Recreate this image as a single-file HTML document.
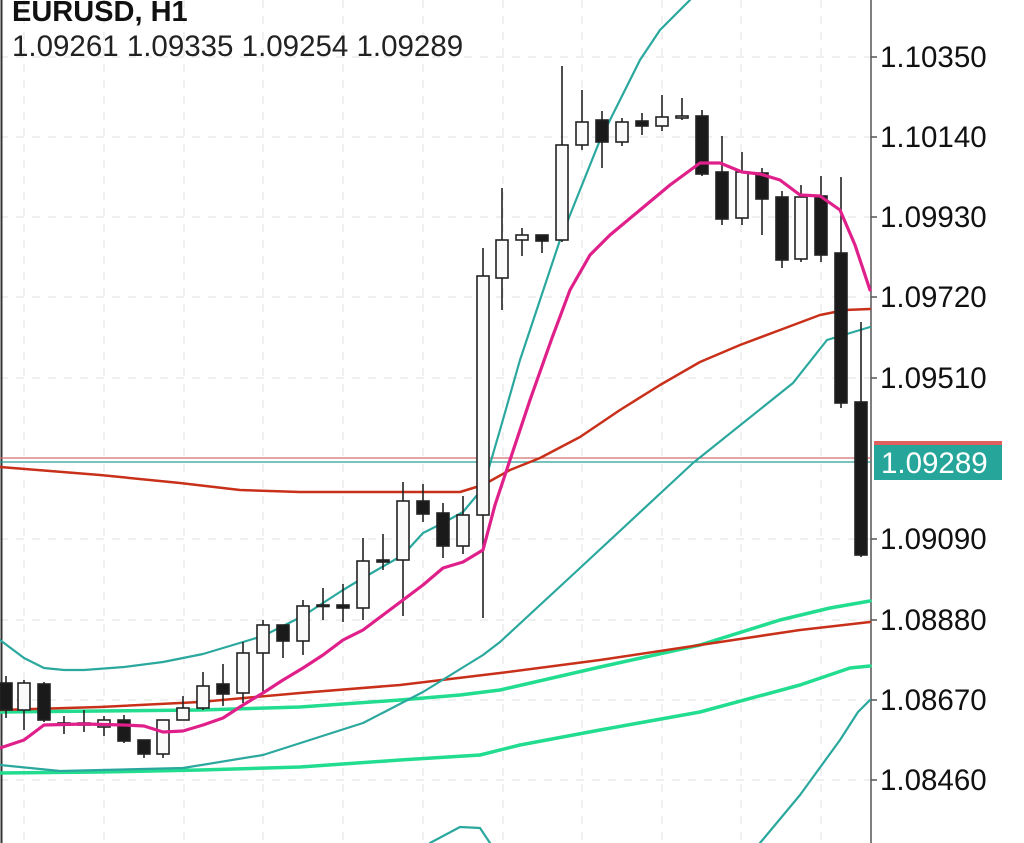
<!DOCTYPE html>
<html><head><meta charset="utf-8"><style>
html,body{margin:0;padding:0;background:#fff;}
svg{display:block;font-family:"Liberation Sans",sans-serif;}
</style></head><body>
<svg width="1024" height="843" viewBox="0 0 1024 843" xmlns="http://www.w3.org/2000/svg">
<rect width="1024" height="843" fill="#fff"/>
<g stroke="#e2e2e2" stroke-width="1" stroke-dasharray="8,8">
<line x1="24" y1="0" x2="24" y2="843"/><line x1="104" y1="0" x2="104" y2="843"/><line x1="184" y1="0" x2="184" y2="843"/><line x1="263" y1="0" x2="263" y2="843"/><line x1="343" y1="0" x2="343" y2="843"/><line x1="423" y1="0" x2="423" y2="843"/><line x1="503" y1="0" x2="503" y2="843"/><line x1="582" y1="0" x2="582" y2="843"/><line x1="662" y1="0" x2="662" y2="843"/><line x1="741" y1="0" x2="741" y2="843"/><line x1="821" y1="0" x2="821" y2="843"/>
<line x1="0" y1="57" x2="871" y2="57"/><line x1="0" y1="137" x2="871" y2="137"/><line x1="0" y1="217" x2="871" y2="217"/><line x1="0" y1="297" x2="871" y2="297"/><line x1="0" y1="378" x2="871" y2="378"/><line x1="0" y1="539" x2="871" y2="539"/><line x1="0" y1="620" x2="871" y2="620"/><line x1="0" y1="700" x2="871" y2="700"/><line x1="0" y1="780" x2="871" y2="780"/>
</g>
<line x1="1.5" y1="0" x2="1.5" y2="843" stroke="#333" stroke-width="2"/>
<line x1="871" y1="0" x2="871" y2="843" stroke="#555" stroke-width="1.5"/>
<g stroke="#555" stroke-width="1.5"><line x1="871" y1="57" x2="877" y2="57"/><line x1="871" y1="137" x2="877" y2="137"/><line x1="871" y1="217" x2="877" y2="217"/><line x1="871" y1="297" x2="877" y2="297"/><line x1="871" y1="378" x2="877" y2="378"/><line x1="871" y1="539" x2="877" y2="539"/><line x1="871" y1="620" x2="877" y2="620"/><line x1="871" y1="700" x2="877" y2="700"/><line x1="871" y1="780" x2="877" y2="780"/></g>
<g font-size="29.5" fill="#111">
<text x="880" y="67">1.10350</text><text x="880" y="147">1.10140</text><text x="880" y="227">1.09930</text><text x="880" y="307">1.09720</text><text x="880" y="388">1.09510</text><text x="880" y="549">1.09090</text><text x="880" y="630">1.08880</text><text x="880" y="710">1.08670</text><text x="880" y="790">1.08460</text>
</g>
<line x1="0" y1="458" x2="871" y2="458" stroke="#d07070" stroke-width="1.3"/>
<line x1="0" y1="462" x2="871" y2="462" stroke="#2a9d93" stroke-width="1.3"/>
<rect x="874" y="441" width="128" height="5" fill="#e06060"/>
<rect x="874" y="445" width="128" height="35" fill="#26a69a"/>
<text x="881" y="473" font-size="29.5" fill="#fff">1.09289</text>
<g fill="none" stroke-linejoin="round" stroke-linecap="round">
<polyline stroke="#22dd90" stroke-width="3.5" points="0,712 100,711 200,710 300,707 400,700 460,695 500,690 600,667 700,645 780,620 830,608 870,601"/>
<polyline stroke="#22dd90" stroke-width="3.5" points="0,773 100,772 200,770 300,767 400,760 480,755 520,745 600,730 700,712 800,685 850,668 870,666"/>
<polyline stroke="#c8301a" stroke-width="2.5" points="0,710 100,707 200,702 300,693 400,685 500,673 600,660 700,645 800,630 870,622"/>
<polyline stroke="#c8301a" stroke-width="2.5" points="0,467 100,475 180,483 240,490 300,492 420,492 460,492 483,485 510,470 540,458 580,437 620,410 660,385 700,362 740,345 780,330 820,315 845,310 870,309"/>
<polyline stroke="#2aa89e" stroke-width="2.2" points="0,640 24,658 44,668 64,670 84,670 124,667 163,662 183,658 203,654 243,642 263,636 303,616 343,590 363,578 403,555 423,533 443,523 463,512 483,488 500,430 520,360 540,300 560,240 580,190 600,140 620,100 640,60 660,30 690,0"/>
<polyline stroke="#2aa89e" stroke-width="2.2" points="0,765 60,771 183,768 263,755 363,723 423,692 483,655 500,642 580,568 693,463 793,383 827,340 870,327"/>
<polyline stroke="#2aa89e" stroke-width="2.2" points="760,843 800,795 840,740 858,712 870,700"/>
<polyline stroke="#2aa89e" stroke-width="2.2" points="430,843 460,827 480,828 490,843"/>
</g>
<g stroke="#222" stroke-width="1.6">
<line x1="6" y1="676" x2="6" y2="718"/><rect x="0" y="683" width="12" height="27" fill="#1a1a1a"/>
<line x1="24" y1="680" x2="24" y2="730"/><rect x="18" y="683" width="12" height="27" fill="#fafafa"/>
<line x1="44" y1="682" x2="44" y2="722"/><rect x="38" y="684" width="12" height="36" fill="#1a1a1a"/>
<line x1="64" y1="716" x2="64" y2="734"/><rect x="58" y="723" width="12" height="2" fill="#1a1a1a"/>
<line x1="84" y1="710" x2="84" y2="732"/><rect x="78" y="723" width="12" height="2" fill="#1a1a1a"/>
<line x1="104" y1="716" x2="104" y2="736"/><rect x="98" y="720" width="12" height="7" fill="#fafafa"/>
<line x1="124" y1="715" x2="124" y2="743"/><rect x="118" y="720" width="12" height="21" fill="#1a1a1a"/>
<line x1="144" y1="740" x2="144" y2="758"/><rect x="138" y="740" width="12" height="14" fill="#1a1a1a"/>
<line x1="163" y1="720" x2="163" y2="758"/><rect x="157" y="720" width="12" height="34" fill="#fafafa"/>
<line x1="183" y1="696" x2="183" y2="720"/><rect x="177" y="708" width="12" height="12" fill="#fafafa"/>
<line x1="203" y1="672" x2="203" y2="710"/><rect x="197" y="686" width="12" height="22" fill="#fafafa"/>
<line x1="223" y1="664" x2="223" y2="706"/><rect x="217" y="684" width="12" height="10" fill="#1a1a1a"/>
<line x1="243" y1="642" x2="243" y2="703"/><rect x="237" y="653" width="12" height="40" fill="#fafafa"/>
<line x1="263" y1="620" x2="263" y2="692"/><rect x="257" y="625" width="12" height="28" fill="#fafafa"/>
<line x1="283" y1="625" x2="283" y2="658"/><rect x="277" y="625" width="12" height="16" fill="#1a1a1a"/>
<line x1="303" y1="600" x2="303" y2="655"/><rect x="297" y="606" width="12" height="35" fill="#fafafa"/>
<line x1="323" y1="588" x2="323" y2="620"/><rect x="317" y="605" width="12" height="1.5" fill="#1a1a1a"/>
<line x1="343" y1="584" x2="343" y2="622"/><rect x="337" y="605" width="12" height="3" fill="#1a1a1a"/>
<line x1="363" y1="538" x2="363" y2="620"/><rect x="357" y="561" width="12" height="47" fill="#fafafa"/>
<line x1="383" y1="534" x2="383" y2="570"/><rect x="377" y="560" width="12" height="2" fill="#1a1a1a"/>
<line x1="403" y1="482" x2="403" y2="616"/><rect x="397" y="501" width="12" height="59" fill="#fafafa"/>
<line x1="423" y1="484" x2="423" y2="522"/><rect x="417" y="501" width="12" height="13" fill="#1a1a1a"/>
<line x1="443" y1="503" x2="443" y2="558"/><rect x="437" y="513" width="12" height="33" fill="#1a1a1a"/>
<line x1="463" y1="496" x2="463" y2="554"/><rect x="457" y="515" width="12" height="31" fill="#fafafa"/>
<line x1="483" y1="248" x2="483" y2="618"/><rect x="477" y="276" width="12" height="239" fill="#fafafa"/>
<line x1="502" y1="188" x2="502" y2="310"/><rect x="496" y="240" width="12" height="38" fill="#fafafa"/>
<line x1="522" y1="228" x2="522" y2="256"/><rect x="516" y="235" width="12" height="5" fill="#fafafa"/>
<line x1="542" y1="235" x2="542" y2="253"/><rect x="536" y="235" width="12" height="6" fill="#1a1a1a"/>
<line x1="562" y1="66" x2="562" y2="242"/><rect x="556" y="145" width="12" height="95" fill="#fafafa"/>
<line x1="582" y1="90" x2="582" y2="150"/><rect x="576" y="122" width="12" height="23" fill="#fafafa"/>
<line x1="602" y1="111" x2="602" y2="168"/><rect x="596" y="120" width="12" height="22" fill="#1a1a1a"/>
<line x1="622" y1="118" x2="622" y2="146"/><rect x="616" y="122" width="12" height="20" fill="#fafafa"/>
<line x1="642" y1="113" x2="642" y2="135"/><rect x="636" y="121" width="12" height="5" fill="#1a1a1a"/>
<line x1="662" y1="95" x2="662" y2="131"/><rect x="656" y="117" width="12" height="9" fill="#fafafa"/>
<line x1="682" y1="98" x2="682" y2="120"/><rect x="676" y="116" width="12" height="2" fill="#fafafa"/>
<line x1="702" y1="110" x2="702" y2="176"/><rect x="696" y="116" width="12" height="58" fill="#1a1a1a"/>
<line x1="722" y1="136" x2="722" y2="225"/><rect x="716" y="172" width="12" height="47" fill="#1a1a1a"/>
<line x1="742" y1="152" x2="742" y2="225"/><rect x="736" y="172" width="12" height="46" fill="#fafafa"/>
<line x1="762" y1="168" x2="762" y2="235"/><rect x="756" y="173" width="12" height="26" fill="#1a1a1a"/>
<line x1="782" y1="191" x2="782" y2="268"/><rect x="776" y="197" width="12" height="63" fill="#1a1a1a"/>
<line x1="801" y1="185" x2="801" y2="262"/><rect x="795" y="197" width="12" height="62" fill="#fafafa"/>
<line x1="821" y1="176" x2="821" y2="262"/><rect x="815" y="196" width="12" height="59" fill="#1a1a1a"/>
<line x1="841" y1="177" x2="841" y2="408"/><rect x="835" y="253" width="12" height="150" fill="#1a1a1a"/>
<line x1="861" y1="322" x2="861" y2="557"/><rect x="855" y="402" width="12" height="153" fill="#1a1a1a"/>
</g>
<polyline fill="none" stroke="#e0208a" stroke-width="3.2" stroke-linejoin="round" stroke-linecap="round" points="0,748 24,740 44,725 84,724 124,725 144,726 163,732 183,731 203,725 223,718 243,705 263,693 283,680 303,668 323,655 343,640 363,630 383,615 403,600 423,585 443,568 463,562 483,550 495,505 510,460 530,400 552,338 570,290 590,255 610,235 640,210 670,185 700,163 720,163 742,172 760,174 780,180 800,195 820,196 840,210 855,245 870,290"/>
<text x="12" y="21" font-size="29" font-weight="bold" fill="#111">EURUSD, H1</text>
<text x="12" y="56" font-size="29.5" fill="#222">1.09261 1.09335 1.09254 1.09289</text>
</svg>
</body></html>
